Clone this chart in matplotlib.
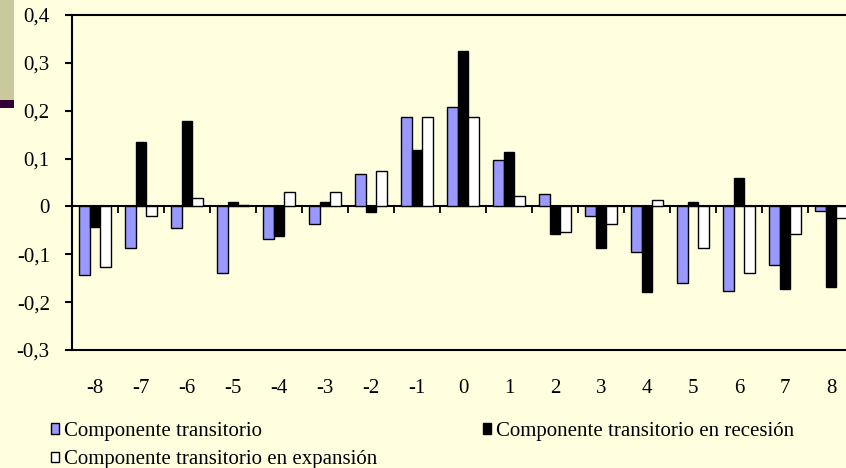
#!/usr/bin/env python3
"""Componente transitorio por trimestre alrededor del punto de giro"""
import numpy as np
import matplotlib
matplotlib.use('Agg')
import matplotlib.pyplot as plt
from matplotlib.patches import Rectangle, Patch

# Datos
trimestres = ['-8', '-7', '-6', '-5', '-4', '-3', '-2', '-1', '0',
              '1', '2', '3', '4', '5', '6', '7', '8']
transitorio = [-0.144, -0.087, -0.045, -0.140, -0.069, -0.037, 0.068, 0.187, 0.207,
               0.096, 0.026, -0.020, -0.095, -0.161, -0.177, -0.123, -0.010]
recesion = [-0.042, 0.134, 0.179, 0.010, -0.062, 0.010, -0.012, 0.117, 0.324,
            0.113, -0.058, -0.087, -0.178, 0.010, 0.059, -0.173, -0.169]
expansion = [-0.127, -0.020, 0.017, 0.002, 0.030, 0.030, 0.075, 0.187, 0.187,
             0.021, -0.053, -0.037, 0.013, -0.086, -0.140, -0.057, -0.024]
yticks = [-0.3, -0.2, -0.1, 0, 0.1, 0.2, 0.3, 0.4]
ytick_labels = ['-0,3', '-0,2', '-0,1', '0', '0,1', '0,2', '0,3', '0,4']
series_names = ['Componente transitorio', 'Componente transitorio en recesión',
                'Componente transitorio en expansión']

BG = '#FFFFE0'
BLUE = '#9999FF'
plt.rcParams['font.family'] = ['Liberation Serif', 'DejaVu Serif']

W, H = 846, 468
fig = plt.figure(figsize=(W / 100, H / 100), dpi=100, facecolor=BG)

# decoracion de la diapositiva (arriba a la izquierda)
fig.patches.append(Rectangle((0, 1 - 100 / H), 14 / W, 100 / H, transform=fig.transFigure,
                             facecolor='#C9C99D', edgecolor='none', zorder=0))
fig.patches.append(Rectangle((0, 1 - 108 / H), 14 / W, 8 / H, transform=fig.transFigure,
                             facecolor='#330033', edgecolor='none', zorder=0))

# el area de trazado sigue mas alla del borde derecho de la imagen
ax = fig.add_axes([72 / W, (H - 350) / H, 782 / W, 335 / H])
ax.set_facecolor(BG)

x = np.arange(len(trimestres))
bw = 0.23
ax.bar(x - bw, transitorio, bw, color=BLUE, edgecolor='black', linewidth=1.0, zorder=2)
ax.bar(x, recesion, bw, color='black', edgecolor='black', linewidth=1.0, zorder=2)
ax.bar(x + bw, expansion, bw, color='white', edgecolor='black', linewidth=1.0, zorder=2)

ymin, ymax = -0.3, 0.4
ax.set_ylim(ymin, ymax)
ax.set_xlim(-0.5, len(trimestres) - 0.5)

ax.set_yticks(yticks, ytick_labels)
ax.tick_params(axis='y', direction='out', length=5, width=1.5, pad=11, labelsize=15)
ax.set_xticks(x, trimestres)
ax.tick_params(axis='x', length=0, pad=21, labelsize=15)

for side in ['left', 'top', 'bottom', 'right']:
    ax.spines[side].set_linewidth(1.5)

# eje de categorias sobre el cero, con marcas entre grupos
zero_loc = (0 - ymin) / (ymax - ymin)
sec = ax.secondary_xaxis(zero_loc)
sec.set_xticks(np.arange(-0.5, len(trimestres), 1.0))
sec.tick_params(axis='x', direction='out', length=5, width=1.3, labelbottom=False,
                labeltop=False, bottom=True, top=False)
sec.spines['bottom'].set_linewidth(1.5)
sec.spines['top'].set_linewidth(1.5)

# leyenda en dos bloques, como en el original
def square(fc):
    return Patch(facecolor=fc, edgecolor='black', linewidth=1.0)

leg_kw = dict(frameon=False, fontsize=15, handlelength=0.4, handleheight=0.4,
              handletextpad=0.2, borderpad=0, borderaxespad=0, labelspacing=0.45,
              loc='upper left')
fig.legend([square(BLUE), square('white')], [series_names[0], series_names[2]],
           bbox_to_anchor=(51 / W, 1 - 422 / H), **leg_kw)
fig.legend([square('black')], [series_names[1]],
           bbox_to_anchor=(483 / W, 1 - 422 / H), **leg_kw)

fig.savefig('out.png', dpi=100, facecolor=BG)
print("saved out.png")
